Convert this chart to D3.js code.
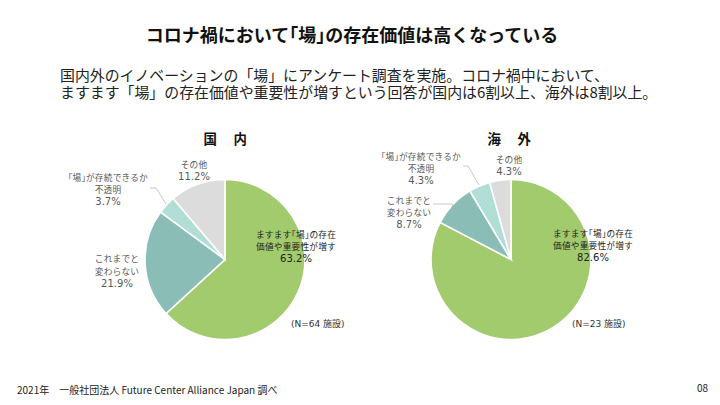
<!DOCTYPE html>
<html lang="ja">
<head>
<meta charset="utf-8">
<script src="https://cdn.jsdelivr.net/npm/d3@7"></script>
<style>
  html, body { margin: 0; padding: 0; background: #fff; }
  svg { display: block; }
  text { font-family: "Noto Sans CJK JP", "Noto Sans", sans-serif; }
  .narrow { font-feature-settings: "halt"; }
  .latin { font-family: "DejaVu Sans", "Noto Sans CJK JP", sans-serif; }
</style>
</head>
<body>
<div id="chart"></div>
<script>
// Data
const categories = ['ますます「場」の存在価値や重要性が増す', 'これまでと変わらない', '「場」が存続できるか不透明', 'その他'];
const domesticValues = [63.2, 21.9, 3.7, 11.2];
const overseasValues = [82.6, 8.7, 4.3, 4.3];
const sampleNotes = ['(N=64 施設)', '(N=23 施設)'];
const pieTitles = ['国　内', '海　外'];

const width = 720;
const height = 405;
const radius = 80;
const colors = ['#a2cb6d', '#8abdb6', '#b4e0d8', '#dcdcdc'];

const svg = d3.select('#chart').append('svg')
    .attr('width', width)
    .attr('height', height);

// Dotted fill used on the third slice
const dots = svg.append('defs').append('pattern')
    .attr('id', 'dots')
    .attr('width', 4).attr('height', 4)
    .attr('patternUnits', 'userSpaceOnUse');
dots.append('rect').attr('width', 4).attr('height', 4).attr('fill', colors[2]);
dots.append('circle').attr('cx', 1).attr('cy', 1).attr('r', 0.5).attr('fill', '#8fcdc1');
dots.append('circle').attr('cx', 3).attr('cy', 3).attr('r', 0.5).attr('fill', '#8fcdc1');

// Writes a string into a text element with half-width corner brackets
function withNarrowBrackets(parent, str) {
    str.split(/([「」])/).filter(s => s).forEach(part => {
        const span = parent.append('tspan').text(part);
        if (part === '「' || part === '」') span.attr('class', 'narrow');
    });
}

// Heading text
withNarrowBrackets(svg.append('text')
    .attr('x', 352).attr('y', 42)
    .attr('text-anchor', 'middle')
    .attr('font-size', 18).attr('font-weight', 700).attr('fill', '#111'),
    'コロナ禍において「場」の存在価値は高くなっている');

const intro = svg.append('text')
    .attr('font-size', 14.9).attr('fill', '#222');
intro.append('tspan')
    .attr('x', 60).attr('y', 81)
    .text('国内外のイノベーションの「場」にアンケート調査を実施。コロナ禍中において、');
intro.append('tspan')
    .attr('x', 60).attr('y', 98)
    .text('ますます「場」の存在価値や重要性が増すという回答が国内は6割以上、海外は8割以上。');

// Footer
svg.append('text')
    .attr('x', 17).attr('y', 394)
    .attr('font-size', 10).attr('fill', '#222')
    .text('2021年　一般社団法人 Future Center Alliance Japan 調べ');

svg.append('text')
    .attr('x', 708).attr('y', 392)
    .attr('text-anchor', 'end')
    .attr('font-size', 10).attr('fill', '#222')
    .text('08');

const pie = d3.pie().sort(null).value(d => d);
const arc = d3.arc().innerRadius(0).outerRadius(radius);

const lineStep = 12.7;
const percentStep = 12;

// One pie plus its hand-placed labels
function drawPie(cx, values, title, note, layout) {
    const g = svg.append('g').attr('transform', `translate(${cx},259.5)`);

    g.selectAll('path')
        .data(pie(values))
        .enter().append('path')
        .attr('d', arc)
        .attr('fill', (d, i) => i === 2 ? 'url(#dots)' : colors[i])
        .attr('stroke', '#fff')
        .attr('stroke-width', 1.6);

    svg.append('text')
        .attr('x', layout.titleX).attr('y', 144)
        .attr('text-anchor', 'middle')
        .attr('font-size', 13.4).attr('font-weight', 700).attr('fill', '#111')
        .attr('letter-spacing', 1.6)
        .text(title);

    // Each label is one text element, one tspan per line
    layout.labels.forEach((label, i) => {
        const lines = layout.lines[i];
        const text = svg.append('text')
            .attr('text-anchor', 'middle')
            .attr('font-size', 8.7)
            .attr('letter-spacing', 0.2)
            .attr('fill', i === 0 ? '#222' : '#595959');
        lines.forEach((line, j) => {
            const row = text.append('tspan')
                .attr('x', label.x)
                .attr('y', label.y + j * lineStep);
            withNarrowBrackets(row, line);
        });
        text.append('tspan')
            .attr('class', 'latin')
            .attr('x', label.x)
            .attr('y', label.y + (lines.length - 1) * lineStep + percentStep)
            .attr('font-size', 10)
            .attr('letter-spacing', 0)
            .text(values[i].toFixed(1) + '%');
    });

    layout.leaders.forEach(points => {
        svg.append('polyline')
            .attr('points', points.join(' '))
            .attr('fill', 'none')
            .attr('stroke', '#b0b0b0')
            .attr('stroke-width', 0.7);
    });

    svg.append('text')
        .attr('class', 'latin')
        .attr('x', layout.noteX).attr('y', 326.5)
        .attr('font-size', 9).attr('fill', '#333')
        .text(note);
}

const splitLines = [
    ['ますます「場」の存在', '価値や重要性が増す'],
    ['これまでと', '変わらない'],
    ['「場」が存続できるか', '不透明'],
    ['その他']
];

drawPie(225, domesticValues, pieTitles[0], sampleNotes[0], {
    titleX: 226,
    noteX: 291,
    lines: splitLines,
    labels: [
        { x: 296, y: 237.7 },
        { x: 117, y: 262 },
        { x: 108, y: 180.7 },
        { x: 194, y: 168 }
    ],
    leaders: [[[150, 188], [156, 188], [166, 204]]]
});

drawPie(511, overseasValues, pieTitles[1], sampleNotes[1], {
    titleX: 510,
    noteX: 572,
    lines: splitLines,
    labels: [
        { x: 593, y: 236.7 },
        { x: 409, y: 203.7 },
        { x: 421, y: 159.7 },
        { x: 509, y: 163 }
    ],
    leaders: [
        [[433, 204], [452, 204], [455, 212]],
        [[463, 166], [468, 166], [479, 185]]
    ]
});
</script>
</body>
</html>
